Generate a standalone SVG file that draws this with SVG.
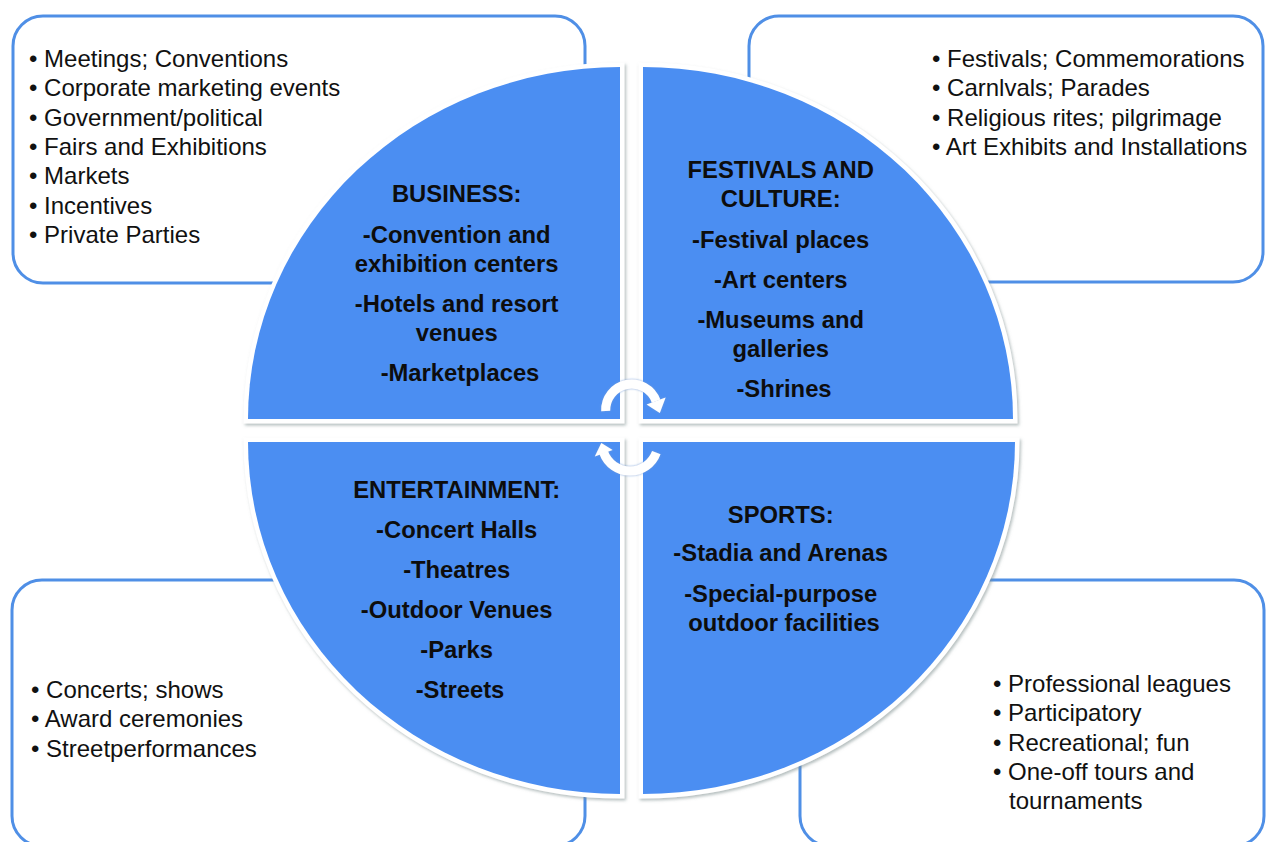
<svg xmlns="http://www.w3.org/2000/svg" width="1266" height="842" viewBox="0 0 1266 842">
  <defs>
    <filter id="shade" x="-5%" y="-5%" width="110%" height="110%">
      <feDropShadow dx="1.5" dy="2" stdDeviation="1.5" flood-color="#7a8a8a" flood-opacity="0.55"/>
    </filter>
    <filter id="arcShade" x="-20%" y="-20%" width="140%" height="140%">
      <feDropShadow dx="0" dy="0" stdDeviation="1.2" flood-color="#6f9bd8" flood-opacity="0.9"/>
    </filter>
  </defs>
  <style>
    .box { fill: #ffffff; stroke: #4f8fe6; stroke-width: 3; }
    .quad { fill: #4b8ef2; stroke: #ffffff; stroke-width: 9; paint-order: stroke; filter: url(#shade); }
    .list { font-family: "Liberation Sans", Arial, sans-serif; font-size: 24px; fill: #111111; }
    .head { font-family: "Liberation Sans", Arial, sans-serif; font-size: 23.8px; font-weight: bold; fill: #0d0d0d; text-anchor: middle; }
    .cyc { fill: none; stroke: #ffffff; stroke-width: 9; }
    .tip { fill: #ffffff; }
  </style>
  <rect width="1266" height="842" fill="#ffffff"/>

  <!-- outer callout boxes with examples -->
  <g id="box-business">
    <rect class="box" x="13" y="16" width="572" height="267" rx="30"/>
    <text class="list">
      <tspan x="29" y="67">• Meetings; Conventions</tspan>
      <tspan x="29" y="96.3">• Corporate marketing events</tspan>
      <tspan x="29" y="125.7">• Government/political</tspan>
      <tspan x="29" y="155">• Fairs and Exhibitions</tspan>
      <tspan x="29" y="184.3">• Markets</tspan>
      <tspan x="29" y="213.7">• Incentives</tspan>
      <tspan x="29" y="243">• Private Parties</tspan>
    </text>
  </g>
  <g id="box-festivals">
    <rect class="box" x="749" y="16" width="514" height="266" rx="30"/>
    <text class="list">
      <tspan x="932" y="67">• Festivals; Commemorations</tspan>
      <tspan x="932" y="96.3">• Carnlvals; Parades</tspan>
      <tspan x="932" y="125.7">• Religious rites; pilgrimage</tspan>
      <tspan x="932" y="155">• Art Exhibits and Installations</tspan>
    </text>
  </g>
  <g id="box-entertainment">
    <rect class="box" x="12" y="580" width="573" height="266" rx="30"/>
    <text class="list">
      <tspan x="31" y="698">• Concerts; shows</tspan>
      <tspan x="31" y="727.3">• Award ceremonies</tspan>
      <tspan x="31" y="756.6">• Streetperformances</tspan>
    </text>
  </g>
  <g id="box-sports">
    <rect class="box" x="800" y="580" width="464" height="266" rx="30"/>
    <text class="list">
      <tspan x="993" y="692">• Professional leagues</tspan>
      <tspan x="993" y="721.3">• Participatory</tspan>
      <tspan x="993" y="750.6">• Recreational; fun</tspan>
      <tspan x="993" y="780">• One-off tours and</tspan>
      <tspan x="1009" y="809.3">tournaments</tspan>
    </text>
  </g>

  <!-- central circle split in four quadrants -->
  <g id="quad-business">
    <path class="quad" d="M620 419 L248 419 A372 352 0 0 1 620 67 Z"/>
    <text class="head">
      <tspan x="460" y="202">BUSINESS:</tspan>
      <tspan x="460" y="243">-Convention and</tspan>
      <tspan x="460" y="272">exhibition centers</tspan>
      <tspan x="460" y="312">-Hotels and resort</tspan>
      <tspan x="460" y="341">venues</tspan>
      <tspan x="460" y="381">-Marketplaces</tspan>
    </text>
  </g>
  <g id="quad-festivals">
    <path class="quad" d="M643 419 L643 67 A370 352 0 0 1 1013 419 Z"/>
    <text class="head">
      <tspan x="784" y="178">FESTIVALS AND</tspan>
      <tspan x="784" y="207">CULTURE:</tspan>
      <tspan x="784" y="248">-Festival places</tspan>
      <tspan x="784" y="288">-Art centers</tspan>
      <tspan x="784" y="328">-Museums and</tspan>
      <tspan x="784" y="357">galleries</tspan>
      <tspan x="784" y="397">-Shrines</tspan>
    </text>
  </g>
  <g id="quad-entertainment">
    <path class="quad" d="M620 442 L248 442 A372 352 0 0 0 620 794 Z"/>
    <text class="head">
      <tspan x="460" y="498">ENTERTAINMENT:</tspan>
      <tspan x="460" y="538">-Concert Halls</tspan>
      <tspan x="460" y="578">-Theatres</tspan>
      <tspan x="460" y="618">-Outdoor Venues</tspan>
      <tspan x="460" y="658">-Parks</tspan>
      <tspan x="460" y="698">-Streets</tspan>
    </text>
  </g>
  <g id="quad-sports">
    <path class="quad" d="M643 442 L1015 442 A372 352 0 0 1 643 794 Z"/>
    <text class="head">
      <tspan x="784" y="523">SPORTS:</tspan>
      <tspan x="784" y="561">-Stadia and Arenas</tspan>
      <tspan x="784" y="602">-Special-purpose</tspan>
      <tspan x="784" y="631">outdoor facilities</tspan>
    </text>
  </g>

  <!-- cycle arrows in the middle -->
  <g id="connectors" filter="url(#arcShade)">
    <path class="cyc" d="M605.7 411 A26 26 0 0 1 656.1 401.1"/>
    <polygon class="tip" points="665.6,397.6 646.6,404.6 659.8,413"/>
    <path class="cyc" d="M656.3 452.6 A28 28 0 0 1 603.7 452.6"/>
    <polygon class="tip" points="594.8,456.4 612.6,449.9 601.3,443"/>
  </g>
</svg>
